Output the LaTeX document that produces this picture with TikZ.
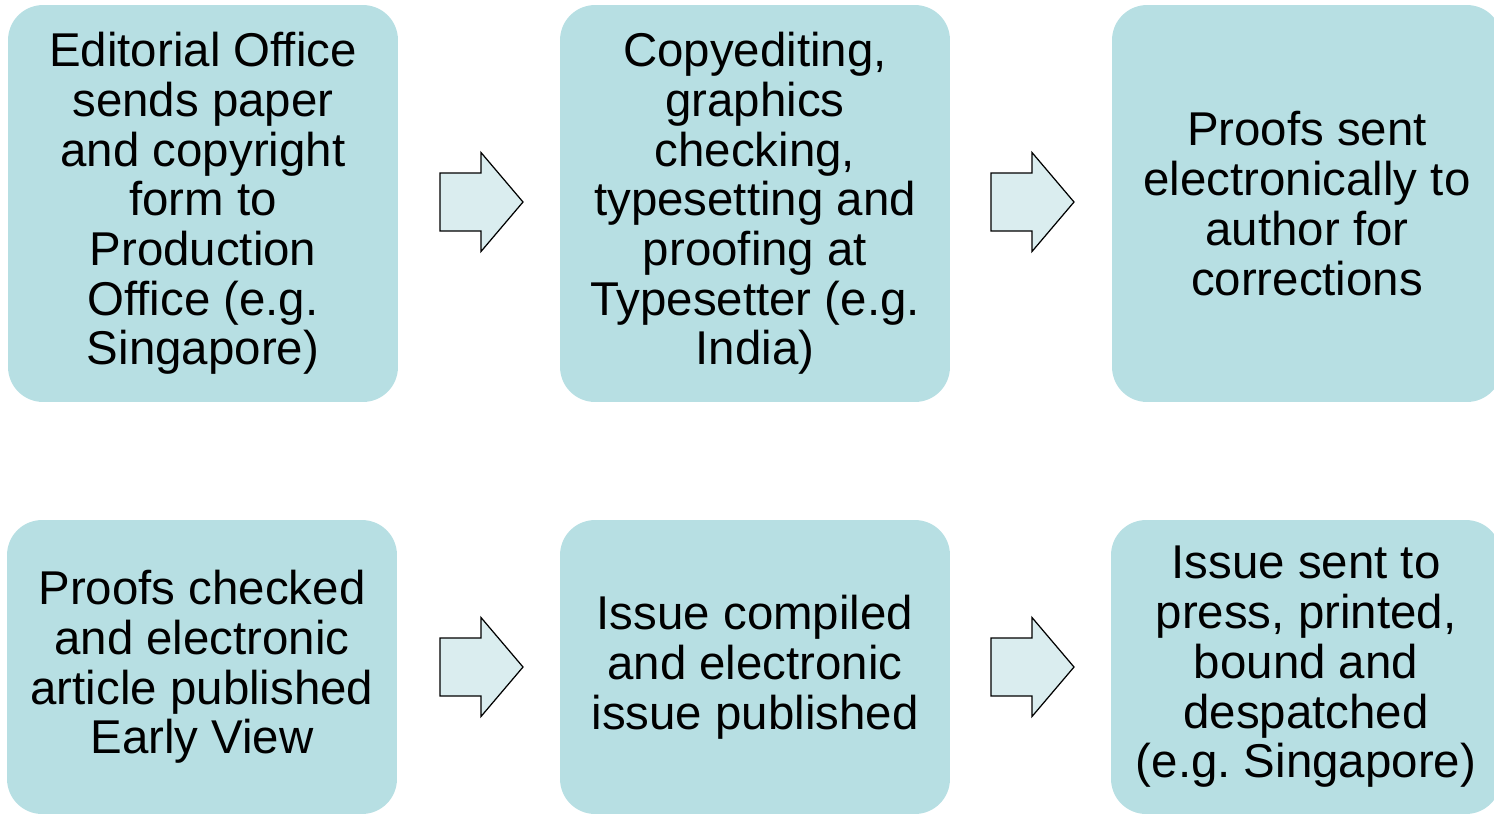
\documentclass[tikz,border=0pt]{standalone}
\usepackage{fontspec}
\setmainfont{Liberation Sans}
\frenchspacing
\definecolor{boxfill}{HTML}{B7DFE3}
\definecolor{arrowfill}{HTML}{DAEDEF}
\begin{document}
\begin{tikzpicture}[x=0.02cm,y=-0.02cm,
  stepbox/.style={fill=boxfill, draw=none, rounded corners=0.7cm, align=center,
    font=\fontsize{27}{28.3}\selectfont\frenchspacing, inner sep=0pt, text=black},
  toprow/.style={stepbox, minimum width=7.8cm, minimum height=7.94cm},
  botrow/.style={stepbox, minimum width=7.8cm, minimum height=5.88cm},
  blockarrow/.style={draw=black, line width=0.7pt, fill=arrowfill, line join=miter}]
\useasboundingbox (0,0) rectangle (1494,816);
\clip (0,0) rectangle (1494,816);
\node[toprow] (b1) at (203,203.5) {Editorial Office\\sends paper\\and copyright\\form to\\Production\\Office (e.g.\\Singapore)};
\node[toprow] (b2) at (755,203.5) {Copyediting,\\graphics\\checking,\\typesetting and\\proofing at\\Typesetter (e.g.\\India)};
\node[toprow] (b3) at (1307,203.5) {Proofs sent\\electronically to\\author for\\corrections};
\node[botrow] (b4) at (202,667) {Proofs checked\\and electronic\\article published\\Early View};
\node[botrow] (b5) at (755,667) {Issue compiled\\and electronic\\issue published};
\node[botrow] (b6) at (1306,667) {Issue sent to\\press, printed,\\bound and\\despatched\\(e.g. Singapore)};
\coordinate (a1) at (440,202);
\coordinate (a2) at (991,202);
\coordinate (a3) at (440,667);
\coordinate (a4) at (991,667);
\foreach \a in {a1,a2,a3,a4}{
  \draw[blockarrow] (\a) ++(0,-29) -- ++(41,0) -- ++(0,-20.5) -- ++(42,49.5) -- ++(-42,49.5) -- ++(0,-20.5) -- ++(-41,0) -- cycle;
}
\end{tikzpicture}
\end{document}
